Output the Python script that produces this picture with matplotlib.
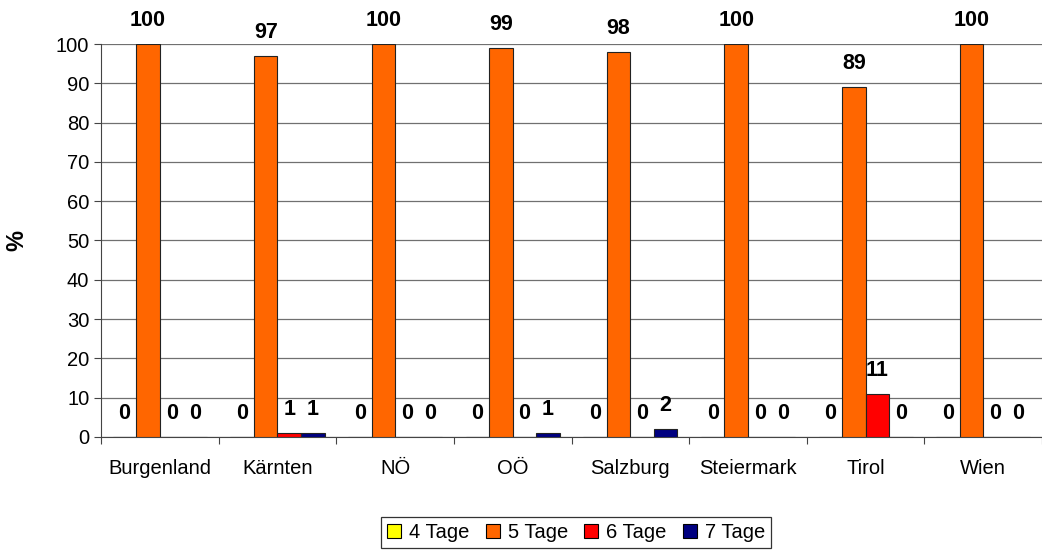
import numpy as np
import matplotlib.pyplot as plt

plt.rcParams['font.family'] = ['Liberation Sans', 'DejaVu Sans']

regions = ["Burgenland", "Kärnten", "NÖ", "OÖ", "Salzburg", "Steiermark", "Tirol", "Wien"]
series_names = ["4 Tage", "5 Tage", "6 Tage", "7 Tage"]
tage4 = [0, 0, 0, 0, 0, 0, 0, 0]
tage5 = [100, 97, 100, 99, 98, 100, 89, 100]
tage6 = [0, 1, 0, 0, 0, 0, 11, 0]
tage7 = [0, 1, 0, 1, 2, 0, 0, 0]
colors = ["#FFFF00", "#FF6600", "#FF0000", "#000080"]

fig = plt.figure(figsize=(10.42, 5.5), dpi=100)
ax = fig.add_axes([0.097, 0.2055, 0.903, 0.7145])

x = np.arange(len(regions))
width = 0.2
for i, (vals, name, c) in enumerate(zip([tage4, tage5, tage6, tage7], series_names, colors)):
    pos = x + (i - 1.5) * width
    ax.bar(pos, vals, width, color=c, edgecolor="#222222", linewidth=0.8,
           label=name, zorder=3)
    for px, v in zip(pos, vals):
        ax.annotate(f"{v}", (px, v), xytext=(0, 17), textcoords="offset points",
                    ha="center", va="center", fontsize=15.5, fontweight="bold",
                    annotation_clip=False)

ax.set_ylim(0, 100)
ax.set_xlim(-0.5, 7.39)
ax.set_yticks(range(0, 101, 10))
ax.tick_params(axis="y", labelsize=14.5, length=5, width=0.8, color="#444444")
ax.set_xticks(x)
ax.set_xticklabels(regions, fontsize=14.5)
ax.tick_params(axis="x", length=0, pad=16)
# category separators below the axis
ax.set_xticks(np.arange(-0.5, 8, 1.0), minor=True)
ax.tick_params(axis="x", which="minor", length=5, width=0.8, color="#444444")

ax.yaxis.grid(True, color="#707070", linewidth=0.9, zorder=0)
for side in ["top", "right"]:
    ax.spines[side].set_visible(False)
ax.spines["left"].set_color("#444444")
ax.spines["bottom"].set_color("#444444")

ax.set_ylabel("%", fontsize=17, fontweight="bold", labelpad=20)

leg = fig.legend(loc="lower center", bbox_to_anchor=(0.553, 0.0), ncol=4,
                 fontsize=14.5, frameon=True, fancybox=False, edgecolor="black",
                 handlelength=0.7, handleheight=0.7, handletextpad=0.4,
                 columnspacing=0.8, borderpad=0.3, borderaxespad=0.1)
leg.get_frame().set_linewidth(0.9)
for h in leg.legend_handles:
    h.set_edgecolor("black")

fig.savefig("out.png", dpi=100)
